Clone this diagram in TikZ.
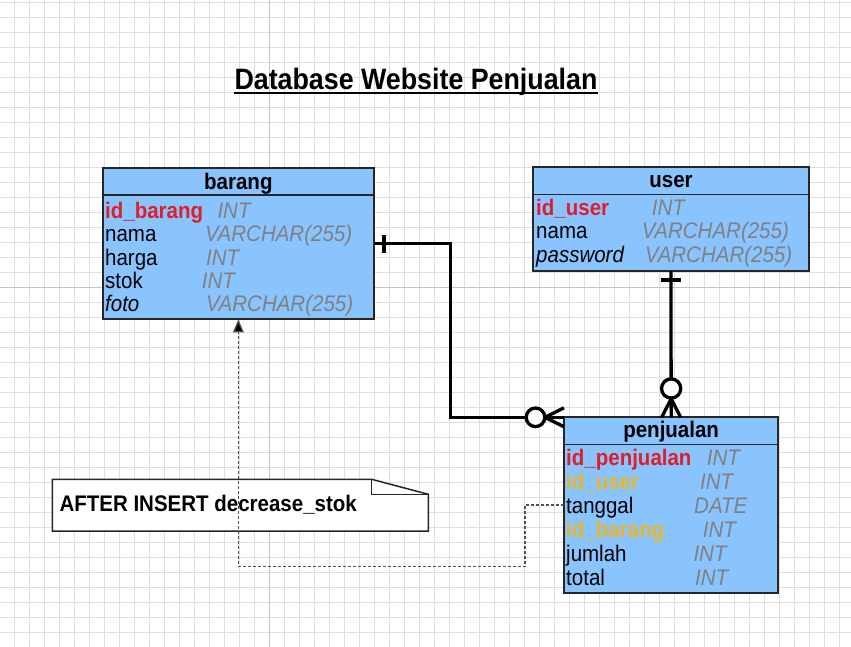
\documentclass[tikz,border=0pt]{standalone}
\usepackage{fontspec}
\setmainfont{Liberation Sans}
\usetikzlibrary{arrows.meta,calc}
\definecolor{tblfill}{RGB}{138,196,255}
\definecolor{pkred}{RGB}{222,30,42}
\definecolor{fkgold}{RGB}{232,182,40}
\definecolor{typegray}{RGB}{128,128,128}
\definecolor{gridc}{RGB}{222,222,222}
\definecolor{gridmaj}{RGB}{196,196,196}
\definecolor{dashc}{RGB}{80,80,80}
\newcommand\erfont{\fontsize{20.5}{24}\selectfont}
\newcommand\tallt[1]{\scalebox{1}[1.1]{#1}}
\begin{document}
\begin{tikzpicture}[x=1pt,y=-1pt,
  tbl/.style={draw=black!85, line width=2pt, fill=tblfill, rectangle, inner sep=0pt, outer sep=0pt, anchor=north west},
  sepline/.style={draw=black!85, line width=1.5pt},
  hdr/.style={font=\erfont\bfseries, text=black, inner sep=0pt, anchor=base},
  fname/.style={font=\erfont, text=black, inner sep=0pt, anchor=base west},
  fpk/.style={fname, font=\erfont\bfseries, text=pkred},
  ffk/.style={fname, font=\erfont\bfseries, text=fkgold},
  fitalic/.style={fname, font=\erfont\itshape},
  ftype/.style={font=\erfont\itshape, text=typegray, inner sep=0pt, anchor=base west},
  erline/.style={line width=3.3pt, draw=black},
  dsh/.style={draw=dashc, line width=1.3pt, dash pattern=on 3pt off 2pt},
  notebox/.style={draw=black!85, line width=1.5pt, fill=white}
]
\useasboundingbox (0,0) rectangle (851,647);
\fill[white] (0,0) rectangle (851,647);
% grid
\foreach \gx in {14.3,29.3,...,850} \draw[gridc, line width=1pt] (\gx,0) -- (\gx,647);
\foreach \gy in {2.3,17.3,...,646} \draw[gridc, line width=1pt] (0,\gy) -- (851,\gy);
\draw[gridmaj, line width=1pt] (269.3,0) -- (269.3,647);
\draw[gridmaj, line width=1pt] (0,287.3) -- (851,287.3);

% title
\node[font=\fontsize{26.8}{30}\selectfont\bfseries, inner sep=0pt, anchor=base] (title) at (416,89.3) {\tallt{Database Website Penjualan}};
\draw[line width=2pt] (title.west |- 0,92.8) -- (title.east |- 0,92.8);

% note
\node[inner sep=0pt, outer sep=0pt, minimum width=376pt, minimum height=51.7pt, anchor=north west] (note) at (52.3,479.3) {};
\draw[notebox] (note.north west) -- ($(note.north east)+(-56.6,0)$) -- ($(note.north east)+(0,15)$) -- (note.south east) -- (note.south west) -- cycle;
\draw[draw=black!85, line width=1.5pt] ($(note.north east)+(-56.6,0)$) -- ($(note.north east)+(-56.6,15)$) -- ($(note.north east)+(0,15)$);
\node[font=\erfont\bfseries, inner sep=0pt, anchor=base west] (notetext) at (59.3,511.7) {\tallt{AFTER INSERT decrease\_stok}};

% table barang
\node[tbl, minimum width=271.3pt, minimum height=151pt] (barang) at (102.7,168.3) {};
\draw[sepline] ($(barang.north west)+(0,26.7)$) -- ($(barang.north east)+(0,26.7)$);
\node[hdr] (barangh) at ($(barang.north)+(0,21)$) {\tallt{barang}};
\node[fpk] (b1) at (105,218.3) {\tallt{id\_barang}};   \node[ftype] (b1t) at (217.3,218.3) {\tallt{INT}};
\node[fname] (b2) at (105,241.7) {\tallt{nama}};       \node[ftype] (b2t) at (205,241.7) {\tallt{VARCHAR(255)}};
\node[fname] (b3) at (105,265.0) {\tallt{harga}};      \node[ftype] (b3t) at (206,265.0) {\tallt{INT}};
\node[fname] (b4) at (105,288.4) {\tallt{stok}};       \node[ftype] (b4t) at (201.7,288.4) {\tallt{INT}};
\node[fitalic] (b5) at (105,311.7) {\tallt{foto}};     \node[ftype] (b5t) at (206,311.7) {\tallt{VARCHAR(255)}};

% table user
\node[tbl, minimum width=275.4pt, minimum height=103.7pt] (user) at (533.3,167.3) {};
\draw[sepline] ($(user.north west)+(0,27)$) -- ($(user.north east)+(0,27)$);
\node[hdr] (userh) at ($(user.north)+(0,20.5)$) {\tallt{user}};
\node[fpk] (u1) at (536,215.3) {\tallt{id\_user}};     \node[ftype] (u1t) at (651.7,215.3) {\tallt{INT}};
\node[fname] (u2) at (536,238.7) {\tallt{nama}};       \node[ftype] (u2t) at (641.7,238.7) {\tallt{VARCHAR(255)}};
\node[fitalic] (u3) at (536,262.0) {\tallt{password}}; \node[ftype] (u3t) at (645,262.0) {\tallt{VARCHAR(255)}};

% table penjualan
\node[tbl, minimum width=214.3pt, minimum height=176pt] (penjualan) at (564,417.3) {};
\draw[sepline] ($(penjualan.north west)+(0,27)$) -- ($(penjualan.north east)+(0,27)$);
\node[hdr] (penjh) at ($(penjualan.north)+(0,20.3)$) {\tallt{penjualan}};
\node[fpk] (p1) at (566,465.0) {\tallt{id\_penjualan}}; \node[ftype] (p1t) at (706.7,465.0) {\tallt{INT}};
\node[ffk] (p2) at (566,489.1) {\tallt{id\_user}};      \node[ftype] (p2t) at (700,489.1) {\tallt{INT}};
\node[fname] (p3) at (566,513.2) {\tallt{tanggal}};     \node[ftype] (p3t) at (694,513.2) {\tallt{DATE}};
\node[ffk] (p4) at (566,537.3) {\tallt{id\_barang}};    \node[ftype] (p4t) at (702.7,537.3) {\tallt{INT}};
\node[fname] (p5) at (566,561.4) {\tallt{jumlah}};      \node[ftype] (p5t) at (693.3,561.4) {\tallt{INT}};
\node[fname] (p6) at (566,585.5) {\tallt{total}};       \node[ftype] (p6t) at (695,585.5) {\tallt{INT}};

% relation barang -> penjualan (one to zero-or-many)
\draw[erline] (barang.east) -- ++(76.7,0) |- (penjualan.north west);
\draw[erline] ($(barang.east)+(10,-9)$) -- ($(barang.east)+(10,9)$);
\draw[erline] ($(penjualan.north west)+(-19,0)$) -- ($(penjualan.north west)+(0,-9.5)$);
\draw[erline] ($(penjualan.north west)+(-19,0)$) -- ($(penjualan.north west)+(0,9.5)$);
\draw[erline, fill=white] ($(penjualan.north west)+(-28.5,0)$) circle[radius=9.3pt];

% relation user -> penjualan
\draw[erline] (user.south) -- (penjualan.north);
\draw[erline] ($(user.south)+(-10,9)$) -- ($(user.south)+(10,9)$);
\draw[erline] ($(penjualan.north)+(0,-18.5)$) -- ($(penjualan.north)+(-9.5,0)$);
\draw[erline] ($(penjualan.north)+(0,-18.5)$) -- ($(penjualan.north)+(9.5,0)$);
\draw[erline, fill=white] ($(penjualan.north)+(0,-28.8)$) circle[radius=9.6pt];

% trigger dashed connector
\coordinate (tg) at ($(penjualan.north west)+(0,87.7)$);
\draw[dsh, -{Triangle[length=13pt,width=10.5pt,fill=black]}] (tg) -| (525,566.7) -| (barang.south);
\end{tikzpicture}
\end{document}
